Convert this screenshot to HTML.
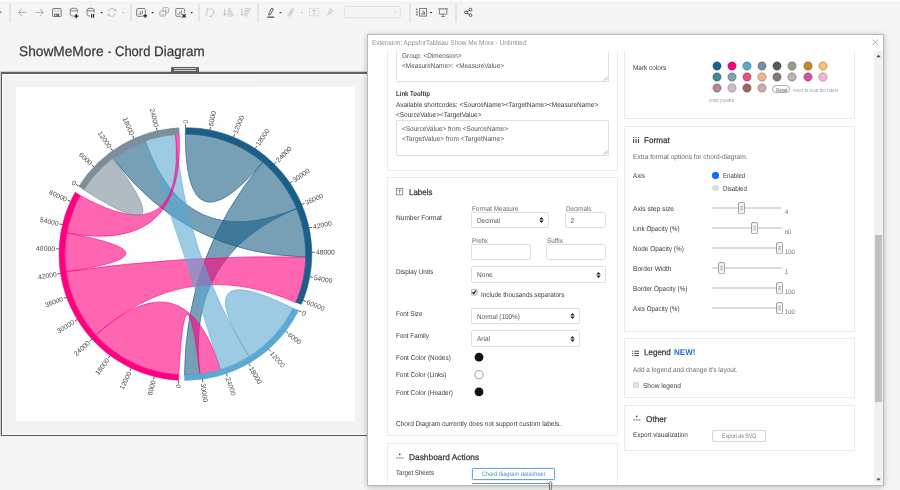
<!DOCTYPE html>
<html><head><meta charset="utf-8"><title>ShowMeMore - Chord Diagram</title>
<style>
html,body{margin:0;padding:0;background:#f5f5f5;}
body{width:900px;height:490px;overflow:hidden;background:#f5f5f5;position:relative;font-family:"Liberation Sans",sans-serif;}
.t{text-rendering:geometricPrecision;position:absolute;white-space:nowrap;line-height:1;transform-origin:0 50%;display:block;}
.b{position:absolute;box-sizing:border-box;}
.card{position:absolute;box-sizing:border-box;border:1px solid #e9ebee;background:#fff;}
.inp{position:absolute;box-sizing:border-box;border:1px solid #dddfe3;background:#fff;border-radius:1.5px;}
.sep{position:absolute;width:2px;background:#e5e5e5;top:3.5px;height:18.5px;}
</style></head><body><div id="root" style="position:absolute;left:0;top:0;width:900px;height:490px;will-change:opacity;opacity:0.999;">

<div class="b" style="left:0.00px;top:0.00px;width:900.00px;height:1.00px;background:#fdfdfd;"></div>
<div class="sep" style="left:9.1px;width:2px;"></div>
<div class="sep" style="left:129.5px;width:2px;"></div>
<div class="sep" style="left:197.6px;width:2px;"></div>
<div class="sep" style="left:257.4px;width:2px;"></div>
<div class="sep" style="left:408.5px;width:2px;"></div>
<div class="sep" style="left:454.7px;width:2px;"></div>
<svg class="b" style="left:0;top:0" width="500" height="26" viewBox="0 0 500 26" fill="none" stroke-linecap="butt">
<path d="M0 9.6H1.6V14.8H0Z" fill="#fff" stroke="none"/><path d="M0 12.2H1.7" stroke="#7f90b2" stroke-width="1.5"/><path d="M0 10.2H1M0 14.2H1" stroke="#b9c4d8" stroke-width="0.7"/>
<path d="M26.2 12.4H18.6M22 8.9L18.4 12.4L22 15.9" stroke="#a8a8a8" stroke-width="0.9"/>
<path d="M35.4 12.4H43.2M39.8 8.9L43.4 12.4L39.8 15.9" stroke="#a8a8a8" stroke-width="0.9"/>
<rect x="52.6" y="8.5" width="8.6" height="8" rx="0.8" stroke="#6a6a6a" stroke-width="0.9"/><rect x="54.2" y="13.6" width="5" height="2.9" fill="#6a6a6a" stroke="none"/><rect x="55" y="14.4" width="1.4" height="1.4" fill="#ddd" stroke="none"/><path d="M54.6 8.6V11H59V8.6" stroke="#aaa" stroke-width="0.6"/>
<path d="M70.3 9.6V14.6C70.3 15.6 71.8 16 73.3 16" stroke="#6a6a6a" stroke-width="0.85"/><ellipse cx="73.8" cy="9.6" rx="3.5" ry="1.4" stroke="#6a6a6a" stroke-width="0.85"/><path d="M77.3 9.6V12.6" stroke="#6a6a6a" stroke-width="0.85"/>
<path d="M74.2 16.1H78.4M76.3 14V18.2" stroke="#1a1a1a" stroke-width="1.3"/>
<path d="M87.1 9.6V14.6C87.1 15.6 88.6 16 90.1 16" stroke="#6a6a6a" stroke-width="0.85"/><ellipse cx="90.6" cy="9.6" rx="3.5" ry="1.4" stroke="#6a6a6a" stroke-width="0.85"/><path d="M94.1 9.6V12.6" stroke="#6a6a6a" stroke-width="0.85"/>
<path d="M91.7 13.9V17.7M93.6 13.9V17.7" stroke="#1a1a1a" stroke-width="1.1"/>
<path d="M100.39999999999999 12.1L101.6 13.4L102.8 12.1Z" fill="#1a1a1a" stroke="none"/>
<path d="M108.2 11.6A3.9 3.9 0 0 1 115.4 10.4M115.6 13.2A3.9 3.9 0 0 1 108.4 14.4" stroke="#b9b9b9" stroke-width="0.9"/><path d="M115.9 8.6V10.8H113.8M107.9 16.2V14H110" stroke="#b9b9b9" stroke-width="0.8"/>
<path d="M122.2 12.1L123.4 13.4L124.60000000000001 12.1Z" fill="#b5b5b5" stroke="none"/>
<rect x="136.7" y="8.5" width="8.6" height="7.8" rx="1" stroke="#6a6a6a" stroke-width="0.85"/><path d="M138.89999999999998 14.6V13.4M140.6 14.6V11.6M142.29999999999998 14.6V10.4" stroke="#6a6a6a" stroke-width="0.9"/>
<rect x="142.6" y="13.2" width="5" height="5" fill="#f5f5f5" stroke="none"/><path d="M143.2 15.8H147.2M145.2 13.8V17.8" stroke="#1a1a1a" stroke-width="1.2"/>
<path d="M151.4 12.1L152.6 13.4L153.79999999999998 12.1Z" fill="#1a1a1a" stroke="none"/>
<rect x="163" y="7.7" width="5.6" height="5" rx="0.8" stroke="#9a9a9a" stroke-width="0.8"/><rect x="159.8" y="11.2" width="5.8" height="4.8" rx="0.8" fill="#f5f5f5" stroke="#9a9a9a" stroke-width="0.8"/><path d="M161.4 14.4H164M165 10.6H167M166 9.6V11.6" stroke="#aaa" stroke-width="0.7"/>
<rect x="175.8" y="8.5" width="8.6" height="7.8" rx="1" stroke="#6a6a6a" stroke-width="0.85"/><path d="M178.0 14.6V13.4M179.70000000000002 14.6V11.6M181.4 14.6V10.4" stroke="#6a6a6a" stroke-width="0.9"/>
<rect x="181.4" y="13.2" width="5" height="5" fill="#f5f5f5" stroke="none"/><path d="M182.3 14.2L185.7 17.6M185.7 14.2L182.3 17.6" stroke="#1a1a1a" stroke-width="1.2"/>
<path d="M190.5 12.1L191.7 13.4L192.89999999999998 12.1Z" fill="#1a1a1a" stroke="none"/>
<path d="M207 9.2H211.6M206.8 9.4V15.4" stroke="#b9b9b9" stroke-width="1.3" stroke-dasharray="1.2 0.7"/><path d="M212.2 9.2C214.6 10.4 214.6 14.4 210.4 16.4" stroke="#b9b9b9" stroke-width="0.9"/><path d="M213 12.6L214.4 11.4M209.2 16.4H211.4" stroke="#b9b9b9" stroke-width="0.8"/>
<path d="M224.7 8.8V15M223.4 13.8L224.7 15.6L226 13.8" stroke="#b9b9b9" stroke-width="0.9"/>
<rect x="228.6" y="8.6" width="2.2" height="1.8" rx="0.7" stroke="#b9b9b9" stroke-width="0.7"/><rect x="228" y="11.4" width="3.8" height="1.8" rx="0.7" stroke="#b9b9b9" stroke-width="0.7"/><rect x="227.6" y="14.2" width="5.8" height="1.8" rx="0.7" stroke="#b9b9b9" stroke-width="0.7"/>
<path d="M242.1 8.8V15M240.8 13.8L242.1 15.6L243.4 13.8" stroke="#b9b9b9" stroke-width="0.9"/>
<rect x="244.8" y="8.6" width="5.8" height="1.8" rx="0.7" stroke="#b9b9b9" stroke-width="0.7"/><rect x="244.8" y="11.4" width="3.8" height="1.8" rx="0.7" stroke="#b9b9b9" stroke-width="0.7"/><rect x="244.8" y="14.2" width="2.4" height="1.8" rx="0.7" stroke="#b9b9b9" stroke-width="0.7"/>
<path d="M271.6 8.2L273.4 9L270.6 14.4L268.8 15.2L268.9 13.4Z" stroke="#3a3a3a" stroke-width="0.8"/><path d="M267.3 17.1H274.1" stroke="#222" stroke-width="1"/>
<path d="M279.1 12.1L280.3 13.4L281.5 12.1Z" fill="#1a1a1a" stroke="none"/>
<path d="M288.2 14.6L291.6 9.2C292.4 8 294.2 9 293.4 10.4L290.2 15.4C289.2 16.8 287.2 15.8 288.2 14.6ZM289.8 14.2L292.2 10.4" stroke="#b9b9b9" stroke-width="0.8"/>
<path d="M300.6 12.1L301.8 13.4L303.0 12.1Z" fill="#bcbcbc" stroke="none"/>
<rect x="309.5" y="8.5" width="9" height="7.4" stroke="#c6c6c6" stroke-width="0.7" stroke-dasharray="1 0.5"/><path d="M312 10.4H316M314 10.4V14.4M313.2 14.4H314.8" stroke="#bdbdbd" stroke-width="0.8"/>
<path d="M330.6 8.6L332.6 11L331.6 11.4L330.8 13.6L328.4 11.6L330.2 10.2ZM329.6 12.6L327.4 15.8" stroke="#b9b9b9" stroke-width="0.8"/>
<rect x="344.6" y="6.4" width="55.8" height="11.4" rx="1" stroke="#dedede" stroke-width="0.9"/>
<path d="M394.3 11.6L395.5 12.9L396.7 11.6Z" fill="#c4c4c4" stroke="none"/>
<rect x="419.6" y="8.5" width="7" height="7.6" stroke="#6a6a6a" stroke-width="0.85"/><path d="M421.6 14.8V13.2M423.1 14.8V10.6M424.6 14.8V11.8" stroke="#6a6a6a" stroke-width="0.9"/><path d="M416.8 8.6V16" stroke="#8c8c8c" stroke-width="1.8" stroke-dasharray="1.7 0.9"/>
<path d="M429.8 12.1L431 13.4L432.2 12.1Z" fill="#1a1a1a" stroke="none"/>
<path d="M438.3 8.9H447.9" stroke="#6a6a6a" stroke-width="1"/><path d="M439.4 9.4V14.2H446.8V9.4" stroke="#6a6a6a" stroke-width="0.85"/><path d="M443.1 14.2V16.2M441.2 16.5H445" stroke="#6a6a6a" stroke-width="0.8"/>
<path d="M466 12.4L470.4 9.8M466 12.4L470.4 15" stroke="#333" stroke-width="0.8"/><circle cx="465.9" cy="12.4" r="1.4" fill="#f5f5f5" stroke="#333" stroke-width="0.8"/><circle cx="470.5" cy="9.6" r="1.4" fill="#f5f5f5" stroke="#333" stroke-width="0.8"/><circle cx="470.5" cy="15.1" r="1.4" fill="#f5f5f5" stroke="#333" stroke-width="0.8"/>
</svg>
<span class="t" style="left:19.30px;top:44px;font-size:14px;color:#3a3a3a;transform:scaleX(0.9795);-webkit-text-stroke:0.25px #3a3a3a;">ShowMeMore</span>
<span class="t" style="left:107.60px;top:44px;font-size:14px;color:#3a3a3a;transform:scaleX(0.6863);-webkit-text-stroke:0.25px #3a3a3a;">-</span>
<span class="t" style="left:114.70px;top:44px;font-size:14px;color:#3a3a3a;transform:scaleX(0.9283);-webkit-text-stroke:0.25px #3a3a3a;">Chord</span>
<span class="t" style="left:154.40px;top:44px;font-size:14px;color:#3a3a3a;transform:scaleX(0.9583);-webkit-text-stroke:0.25px #3a3a3a;">Diagram</span>
<div class="b" style="left:1.00px;top:72.00px;width:368.00px;height:364.00px;border:1px solid #5c5c5c;border-top:2px solid #626262;background:#f3f3f3;box-shadow:inset 0 0 0 1px rgba(255,255,255,.75),0 1px 0 rgba(255,255,255,.75),0 0 0 0.4px rgba(90,90,90,.6);"></div>
<div class="b" style="left:16.00px;top:87.30px;width:338.80px;height:334.10px;background:#fff;"></div>
<div class="b" style="left:171.40px;top:66.70px;width:27.20px;height:6.30px;background:#5e5e5e;border-radius:1px 1px 0 0;"></div>
<div class="b" style="left:174.00px;top:68.00px;width:22.00px;height:1.00px;background:#cfcfcf;"></div>
<div class="b" style="left:174.00px;top:70.00px;width:22.00px;height:1.00px;background:#cfcfcf;"></div>
<svg class="b" style="left:0;top:0" width="900" height="490" viewBox="0 0 900 490">
<g fill-opacity="0.6" stroke-width="0.6">
<path d="M185.30,134.00A120.5,120.5 0 0 1 262.76,162.19Q185.3,254.5 185.30,134.00Z" fill="#1c5f86" stroke="#1c5f86"/>
<path d="M262.76,162.19A120.5,120.5 0 0 1 296.71,208.58Q185.3,254.5 199.99,374.10A120.5,120.5 0 0 1 184.46,375.00Q185.3,254.5 262.76,162.19Z" fill="#1c5f86" stroke="#1c5f86"/>
<path d="M95.75,335.13A120.5,120.5 0 0 1 66.03,271.69Q185.3,254.5 305.77,257.02A120.5,120.5 0 0 1 295.85,302.45Q185.3,254.5 95.75,335.13Z" fill="#ff007f" stroke="#ff007f"/>
<path d="M296.71,208.58A120.5,120.5 0 0 1 305.77,257.02Q185.3,254.5 112.78,158.26A120.5,120.5 0 0 1 145.27,140.84Q185.3,254.5 296.71,208.58Z" fill="#1c5f86" stroke="#1c5f86"/>
<path d="M293.14,308.27A120.5,120.5 0 0 1 249.16,356.69Q185.3,254.5 293.14,308.27Z" fill="#5aa9d1" stroke="#5aa9d1"/>
<path d="M178.78,374.82A120.5,120.5 0 0 1 95.75,335.13Q185.3,254.5 220.53,369.73A120.5,120.5 0 0 1 199.99,374.10Q185.3,254.5 178.78,374.82Z" fill="#ff007f" stroke="#ff007f"/>
<path d="M249.16,356.69A120.5,120.5 0 0 1 220.53,369.73Q185.3,254.5 145.27,140.84A120.5,120.5 0 0 1 175.64,134.39Q185.3,254.5 249.16,356.69Z" fill="#5aa9d1" stroke="#5aa9d1"/>
<path d="M66.03,271.69A120.5,120.5 0 0 1 66.74,232.95Q185.3,254.5 66.03,271.69Z" fill="#ff007f" stroke="#ff007f"/>
<path d="M66.74,232.95A120.5,120.5 0 0 1 80.22,195.53Q185.3,254.5 175.64,134.39A120.5,120.5 0 0 1 179.20,134.15Q185.3,254.5 66.74,232.95Z" fill="#ff007f" stroke="#ff007f"/>
<path d="M83.67,189.76A120.5,120.5 0 0 1 112.78,158.26Q185.3,254.5 83.67,189.76Z" fill="#7d8d99" stroke="#7d8d99"/>
</g>
<path d="M185.45,127.65A126.4,126.4 0 0 1 301.41,304.35L295.85,302.45A120.5,120.5 0 0 0 185.30,134.00Z" fill="#1c5f86" stroke="#1c5f86" stroke-width="0.5"/>
<path d="M298.57,310.45A126.4,126.4 0 0 1 184.57,380.45L184.46,375.00A120.5,120.5 0 0 0 293.14,308.27Z" fill="#5aa9d1" stroke="#5aa9d1" stroke-width="0.5"/>
<path d="M178.61,380.27A126.4,126.4 0 0 1 75.22,192.19L80.22,195.53A120.5,120.5 0 0 0 178.78,374.82Z" fill="#ff007f" stroke="#ff007f" stroke-width="0.5"/>
<path d="M78.85,186.14A126.4,126.4 0 0 1 179.06,127.81L179.20,134.15A120.5,120.5 0 0 0 83.67,189.76Z" fill="#7d8d99" stroke="#7d8d99" stroke-width="0.5"/>
<g font-family="Liberation Sans, sans-serif" font-size="6.8" fill="#484848" stroke="none" text-rendering="geometricPrecision">
<g transform="translate(185.45,254.05) rotate(-90.00) translate(126.4,0)"><line x1="0" y1="0" x2="3.1" y2="0" stroke="#333" stroke-width="0.75"/><text x="4.1" dy="0.35em">0</text></g>
<g transform="translate(185.45,254.05) rotate(-78.85) translate(126.4,0)"><line x1="0" y1="0" x2="3.1" y2="0" stroke="#333" stroke-width="0.75"/><text x="4.1" dy="0.35em">6000</text></g>
<g transform="translate(185.45,254.05) rotate(-67.70) translate(126.4,0)"><line x1="0" y1="0" x2="3.1" y2="0" stroke="#333" stroke-width="0.75"/><text x="4.1" dy="0.35em">12000</text></g>
<g transform="translate(185.45,254.05) rotate(-56.55) translate(126.4,0)"><line x1="0" y1="0" x2="3.1" y2="0" stroke="#333" stroke-width="0.75"/><text x="4.1" dy="0.35em">18000</text></g>
<g transform="translate(185.45,254.05) rotate(-45.40) translate(126.4,0)"><line x1="0" y1="0" x2="3.1" y2="0" stroke="#333" stroke-width="0.75"/><text x="4.1" dy="0.35em">24000</text></g>
<g transform="translate(185.45,254.05) rotate(-34.25) translate(126.4,0)"><line x1="0" y1="0" x2="3.1" y2="0" stroke="#333" stroke-width="0.75"/><text x="4.1" dy="0.35em">30000</text></g>
<g transform="translate(185.45,254.05) rotate(-23.10) translate(126.4,0)"><line x1="0" y1="0" x2="3.1" y2="0" stroke="#333" stroke-width="0.75"/><text x="4.1" dy="0.35em">36000</text></g>
<g transform="translate(185.45,254.05) rotate(-11.95) translate(126.4,0)"><line x1="0" y1="0" x2="3.1" y2="0" stroke="#333" stroke-width="0.75"/><text x="4.1" dy="0.35em">42000</text></g>
<g transform="translate(185.45,254.05) rotate(-0.80) translate(126.4,0)"><line x1="0" y1="0" x2="3.1" y2="0" stroke="#333" stroke-width="0.75"/><text x="4.1" dy="0.35em">48000</text></g>
<g transform="translate(185.45,254.05) rotate(10.35) translate(126.4,0)"><line x1="0" y1="0" x2="3.1" y2="0" stroke="#333" stroke-width="0.75"/><text x="4.1" dy="0.35em">54000</text></g>
<g transform="translate(185.45,254.05) rotate(21.50) translate(126.4,0)"><line x1="0" y1="0" x2="3.1" y2="0" stroke="#333" stroke-width="0.75"/><text x="4.1" dy="0.35em">60000</text></g>
<g transform="translate(185.45,254.05) rotate(26.50) translate(126.4,0)"><line x1="0" y1="0" x2="3.1" y2="0" stroke="#333" stroke-width="0.75"/><text x="4.1" dy="0.35em">0</text></g>
<g transform="translate(185.45,254.05) rotate(37.65) translate(126.4,0)"><line x1="0" y1="0" x2="3.1" y2="0" stroke="#333" stroke-width="0.75"/><text x="4.1" dy="0.35em">6000</text></g>
<g transform="translate(185.45,254.05) rotate(48.80) translate(126.4,0)"><line x1="0" y1="0" x2="3.1" y2="0" stroke="#333" stroke-width="0.75"/><text x="4.1" dy="0.35em">12000</text></g>
<g transform="translate(185.45,254.05) rotate(59.95) translate(126.4,0)"><line x1="0" y1="0" x2="3.1" y2="0" stroke="#333" stroke-width="0.75"/><text x="4.1" dy="0.35em">18000</text></g>
<g transform="translate(185.45,254.05) rotate(71.10) translate(126.4,0)"><line x1="0" y1="0" x2="3.1" y2="0" stroke="#333" stroke-width="0.75"/><text x="4.1" dy="0.35em">24000</text></g>
<g transform="translate(185.45,254.05) rotate(82.25) translate(126.4,0)"><line x1="0" y1="0" x2="3.1" y2="0" stroke="#333" stroke-width="0.75"/><text x="4.1" dy="0.35em">30000</text></g>
<g transform="translate(185.45,254.05) rotate(93.10) translate(126.4,0)"><line x1="0" y1="0" x2="3.1" y2="0" stroke="#333" stroke-width="0.75"/><text transform="rotate(180) translate(-8.2,0)" x="4.1" dy="0.35em" text-anchor="end">0</text></g>
<g transform="translate(185.45,254.05) rotate(104.25) translate(126.4,0)"><line x1="0" y1="0" x2="3.1" y2="0" stroke="#333" stroke-width="0.75"/><text transform="rotate(180) translate(-8.2,0)" x="4.1" dy="0.35em" text-anchor="end">6000</text></g>
<g transform="translate(185.45,254.05) rotate(115.40) translate(126.4,0)"><line x1="0" y1="0" x2="3.1" y2="0" stroke="#333" stroke-width="0.75"/><text transform="rotate(180) translate(-8.2,0)" x="4.1" dy="0.35em" text-anchor="end">12000</text></g>
<g transform="translate(185.45,254.05) rotate(126.55) translate(126.4,0)"><line x1="0" y1="0" x2="3.1" y2="0" stroke="#333" stroke-width="0.75"/><text transform="rotate(180) translate(-8.2,0)" x="4.1" dy="0.35em" text-anchor="end">18000</text></g>
<g transform="translate(185.45,254.05) rotate(137.70) translate(126.4,0)"><line x1="0" y1="0" x2="3.1" y2="0" stroke="#333" stroke-width="0.75"/><text transform="rotate(180) translate(-8.2,0)" x="4.1" dy="0.35em" text-anchor="end">24000</text></g>
<g transform="translate(185.45,254.05) rotate(148.85) translate(126.4,0)"><line x1="0" y1="0" x2="3.1" y2="0" stroke="#333" stroke-width="0.75"/><text transform="rotate(180) translate(-8.2,0)" x="4.1" dy="0.35em" text-anchor="end">30000</text></g>
<g transform="translate(185.45,254.05) rotate(160.00) translate(126.4,0)"><line x1="0" y1="0" x2="3.1" y2="0" stroke="#333" stroke-width="0.75"/><text transform="rotate(180) translate(-8.2,0)" x="4.1" dy="0.35em" text-anchor="end">36000</text></g>
<g transform="translate(185.45,254.05) rotate(171.15) translate(126.4,0)"><line x1="0" y1="0" x2="3.1" y2="0" stroke="#333" stroke-width="0.75"/><text transform="rotate(180) translate(-8.2,0)" x="4.1" dy="0.35em" text-anchor="end">42000</text></g>
<g transform="translate(185.45,254.05) rotate(182.30) translate(126.4,0)"><line x1="0" y1="0" x2="3.1" y2="0" stroke="#333" stroke-width="0.75"/><text transform="rotate(180) translate(-8.2,0)" x="4.1" dy="0.35em" text-anchor="end">48000</text></g>
<g transform="translate(185.45,254.05) rotate(193.45) translate(126.4,0)"><line x1="0" y1="0" x2="3.1" y2="0" stroke="#333" stroke-width="0.75"/><text transform="rotate(180) translate(-8.2,0)" x="4.1" dy="0.35em" text-anchor="end">54000</text></g>
<g transform="translate(185.45,254.05) rotate(204.60) translate(126.4,0)"><line x1="0" y1="0" x2="3.1" y2="0" stroke="#333" stroke-width="0.75"/><text transform="rotate(180) translate(-8.2,0)" x="4.1" dy="0.35em" text-anchor="end">60000</text></g>
<g transform="translate(185.45,254.05) rotate(212.50) translate(126.4,0)"><line x1="0" y1="0" x2="3.1" y2="0" stroke="#333" stroke-width="0.75"/><text transform="rotate(180) translate(-8.2,0)" x="4.1" dy="0.35em" text-anchor="end">0</text></g>
<g transform="translate(185.45,254.05) rotate(223.65) translate(126.4,0)"><line x1="0" y1="0" x2="3.1" y2="0" stroke="#333" stroke-width="0.75"/><text transform="rotate(180) translate(-8.2,0)" x="4.1" dy="0.35em" text-anchor="end">6000</text></g>
<g transform="translate(185.45,254.05) rotate(234.80) translate(126.4,0)"><line x1="0" y1="0" x2="3.1" y2="0" stroke="#333" stroke-width="0.75"/><text transform="rotate(180) translate(-8.2,0)" x="4.1" dy="0.35em" text-anchor="end">12000</text></g>
<g transform="translate(185.45,254.05) rotate(245.95) translate(126.4,0)"><line x1="0" y1="0" x2="3.1" y2="0" stroke="#333" stroke-width="0.75"/><text transform="rotate(180) translate(-8.2,0)" x="4.1" dy="0.35em" text-anchor="end">18000</text></g>
<g transform="translate(185.45,254.05) rotate(257.10) translate(126.4,0)"><line x1="0" y1="0" x2="3.1" y2="0" stroke="#333" stroke-width="0.75"/><text transform="rotate(180) translate(-8.2,0)" x="4.1" dy="0.35em" text-anchor="end">24000</text></g>
</g></svg>
<div class="b" style="left:367px;top:34px;width:517px;height:452px;background:#fff;border:1px solid #b9b9b9;box-shadow:0 0.5px 6px rgba(0,0,0,.26);"></div>
<span class="t" style="left:372.30px;top:40px;font-size:7.0px;color:#8f8f8f;transform:scaleX(0.9234);">Extension: AppsforTableau Show Me More - Unlimited</span>
<svg class="b" style="left:871px;top:38px" width="9" height="9" viewBox="0 0 9 9"><path d="M1.6 1.6L7 7M7 1.6L1.6 7" stroke="#9a9a9a" stroke-width="0.8" fill="none"/></svg>
<div class="b" style="left:874.00px;top:51.00px;width:9.00px;height:432.00px;background:#f1f1f1;"></div>
<div class="b" style="left:875.00px;top:235.00px;width:7.00px;height:167.00px;background:#c1c1c1;"></div>
<svg class="b" style="left:874px;top:49.6px" width="9" height="12" viewBox="0 0 9 12"><path d="M2.3 7.2L4.5 4.8L6.7 7.2Z" fill="#444"/></svg>
<svg class="b" style="left:874px;top:473px" width="9" height="12" viewBox="0 0 9 12"><path d="M2.3 5.4L4.5 7.8L6.7 5.4Z" fill="#444"/></svg>
<div class="card" style="left:387.00px;top:51.00px;width:231.00px;height:120.00px;border-top:none;"></div>
<div class="inp" style="left:396.00px;top:51.00px;width:213.00px;height:31.00px;border-top:none;"></div>
<span class="t" style="left:402.00px;top:53px;font-size:7px;color:#555;transform:scaleX(0.9212);">Group: &lt;Dimension&gt;</span>
<span class="t" style="left:402.00px;top:63px;font-size:7px;color:#555;transform:scaleX(0.9208);">&lt;MeasureName&gt;: &lt;MeasureValue&gt;</span>
<svg class="b" style="left:603px;top:75.5px" width="5" height="5" viewBox="0 0 5 5"><path d="M0.5 4.5L4.5 0.5M2.5 4.5L4.5 2.5" stroke="#888" stroke-width="0.6" fill="none"/></svg>
<span class="t" style="left:396.10px;top:90px;font-size:7.2px;color:#3b3b3b;font-weight:700;transform:scaleX(0.8421);">Link Tooltip</span>
<span class="t" style="left:396.10px;top:102px;font-size:7px;color:#3b3b3b;transform:scaleX(0.9285);">Available shortcodes: &lt;SourceName&gt;&lt;TargetName&gt;&lt;MeasureName&gt;</span>
<span class="t" style="left:396.10px;top:112px;font-size:7px;color:#3b3b3b;transform:scaleX(0.9207);">&lt;SourceValue&gt;&lt;TargetValue&gt;</span>
<div class="inp" style="left:396.00px;top:120.00px;width:213.00px;height:36.00px;"></div>
<span class="t" style="left:402.00px;top:126px;font-size:7px;color:#555;transform:scaleX(0.9245);">&lt;SourceValue&gt; from &lt;SourceName&gt;</span>
<span class="t" style="left:402.00px;top:136px;font-size:7px;color:#555;transform:scaleX(0.9340);">&lt;TargetValue&gt; from &lt;TargetName&gt;</span>
<svg class="b" style="left:603px;top:149.6px" width="5" height="5" viewBox="0 0 5 5"><path d="M0.5 4.5L4.5 0.5M2.5 4.5L4.5 2.5" stroke="#888" stroke-width="0.6" fill="none"/></svg>
<div class="card" style="left:387.00px;top:177.00px;width:231.00px;height:259.00px;"></div>
<svg class="b" style="left:396px;top:188.2px" width="8" height="8" viewBox="0 0 8 8"><rect x="0.4" y="0.4" width="6.4" height="6.4" fill="none" stroke="#666" stroke-width="0.7"/><path d="M2.1 2.2H5.1M3.6 2.2V5.4" stroke="#555" stroke-width="0.7" fill="none"/></svg>
<span class="t" style="left:408.60px;top:188px;font-size:8.3px;color:#3b3b3b;transform:scaleX(0.9567);-webkit-text-stroke:0.25px #333;">Labels</span>
<span class="t" style="left:396.10px;top:215px;font-size:7px;color:#3b3b3b;transform:scaleX(0.9365);">Number Format</span>
<span class="t" style="left:471.70px;top:206px;font-size:7px;color:#6b6b6b;transform:scaleX(0.9056);">Format Measure</span>
<span class="t" style="left:565.70px;top:206px;font-size:7px;color:#6b6b6b;transform:scaleX(0.8824);">Decimals</span>
<div class="inp" style="left:471.00px;top:212.00px;width:78.00px;height:16.00px;"></div>
<span class="t" style="left:476.90px;top:218px;font-size:7px;color:#555;transform:scaleX(0.9097);">Decimal</span>
<svg class="b" style="left:538.7px;top:216.4px" width="5" height="8" viewBox="0 0 5 8"><path d="M0.3 3.4L2.5 1L4.7 3.4ZM0.3 4.6L2.5 7L4.7 4.6Z" fill="#222"/></svg>
<div class="inp" style="left:565.00px;top:212.00px;width:41.00px;height:16.00px;"></div>
<span class="t" style="left:570.60px;top:218px;font-size:7px;color:#555;">2</span>
<span class="t" style="left:471.70px;top:238px;font-size:7px;color:#6b6b6b;transform:scaleX(0.8886);">Prefix</span>
<span class="t" style="left:546.70px;top:238px;font-size:7px;color:#6b6b6b;transform:scaleX(0.9148);">Suffix</span>
<div class="inp" style="left:471.00px;top:244.00px;width:60.00px;height:16.00px;"></div>
<div class="inp" style="left:546.00px;top:244.00px;width:60.00px;height:16.00px;"></div>
<span class="t" style="left:396.10px;top:269px;font-size:7px;color:#3b3b3b;transform:scaleX(0.9107);">Display Units</span>
<div class="inp" style="left:471.00px;top:266.00px;width:135.00px;height:17.00px;"></div>
<span class="t" style="left:476.90px;top:272px;font-size:7px;color:#555;transform:scaleX(0.9382);">None</span>
<svg class="b" style="left:595.6px;top:270.6px" width="5" height="8" viewBox="0 0 5 8"><path d="M0.3 3.4L2.5 1L4.7 3.4ZM0.3 4.6L2.5 7L4.7 4.6Z" fill="#222"/></svg>
<svg class="b" style="left:471.2px;top:289.4px" width="7" height="7" viewBox="0 0 7 7"><rect x="0.5" y="0.5" width="5.6" height="5.6" rx="0.9" fill="#f4f4f4" stroke="#9a9a9a" stroke-width="0.7"/><path d="M1.5 3.2L2.8 4.6L5 1.5" stroke="#111" stroke-width="1.25" fill="none"/></svg>
<span class="t" style="left:481.00px;top:292px;font-size:7px;color:#3b3b3b;transform:scaleX(0.9081);">Include thousands separators</span>
<span class="t" style="left:396.10px;top:311px;font-size:7px;color:#3b3b3b;transform:scaleX(0.8962);">Font Size</span>
<div class="inp" style="left:471.00px;top:308.00px;width:109.00px;height:16.00px;"></div>
<span class="t" style="left:476.90px;top:314px;font-size:7px;color:#555;transform:scaleX(0.9114);">Normal (100%)</span>
<svg class="b" style="left:569.7px;top:312.4px" width="5" height="8" viewBox="0 0 5 8"><path d="M0.3 3.4L2.5 1L4.7 3.4ZM0.3 4.6L2.5 7L4.7 4.6Z" fill="#222"/></svg>
<span class="t" style="left:396.10px;top:333px;font-size:7px;color:#3b3b3b;transform:scaleX(0.8998);">Font Family</span>
<div class="inp" style="left:471.00px;top:330.00px;width:109.00px;height:17.00px;"></div>
<span class="t" style="left:476.90px;top:336px;font-size:7px;color:#555;transform:scaleX(0.9211);">Arial</span>
<svg class="b" style="left:569.7px;top:334.5px" width="5" height="8" viewBox="0 0 5 8"><path d="M0.3 3.4L2.5 1L4.7 3.4ZM0.3 4.6L2.5 7L4.7 4.6Z" fill="#222"/></svg>
<span class="t" style="left:396.10px;top:355px;font-size:7px;color:#3b3b3b;transform:scaleX(0.9207);">Font Color (Nodes)</span>
<svg class="b" style="left:473px;top:351px" width="12" height="12" viewBox="0 0 12 12"><circle cx="6" cy="6.2" r="4.4" fill="#111"/></svg>
<span class="t" style="left:396.10px;top:372px;font-size:7px;color:#3b3b3b;transform:scaleX(0.9060);">Font Color (Links)</span>
<svg class="b" style="left:473px;top:369px" width="12" height="12" viewBox="0 0 12 12"><circle cx="6" cy="5.7" r="4.1" fill="#fff" stroke="#777" stroke-width="0.7"/></svg>
<span class="t" style="left:396.10px;top:390px;font-size:7px;color:#3b3b3b;transform:scaleX(0.9141);">Font Color (Header)</span>
<svg class="b" style="left:473px;top:386px" width="12" height="12" viewBox="0 0 12 12"><circle cx="6" cy="5.9" r="4.4" fill="#111"/></svg>
<span class="t" style="left:396.10px;top:421px;font-size:7px;color:#3b3b3b;transform:scaleX(0.9320);">Chord Diagram currently does not support custom labels.</span>
<div class="card" style="left:387.00px;top:443.00px;width:231.00px;height:41.40px;border-bottom:none;"></div>
<svg class="b" style="left:395px;top:452.1px" width="10" height="8" viewBox="0 0 10 8"><circle cx="4.8" cy="2.4" r="0.8" fill="#333"/><path d="M1.4 5.8H8.4" stroke="#bbb" stroke-width="0.7"/><circle cx="2.2" cy="5.8" r="0.85" fill="#9a9a9a"/><circle cx="4.85" cy="5.8" r="0.85" fill="#9a9a9a"/><circle cx="7.5" cy="5.8" r="0.85" fill="#9a9a9a"/></svg>
<span class="t" style="left:408.90px;top:453px;font-size:8.3px;color:#3b3b3b;transform:scaleX(1.0076);-webkit-text-stroke:0.25px #333;">Dashboard Actions</span>
<span class="t" style="left:396.10px;top:470px;font-size:7px;color:#3b3b3b;transform:scaleX(0.8798);">Target Sheets</span>
<div class="b" style="left:472.30px;top:467.70px;width:82.70px;height:12.30px;border:1px solid #6ea5e0;background:#fff;border-radius:1.5px;box-shadow:0 0 1.5px #9cc4ee;"></div>
<span class="t" style="left:482.00px;top:472px;font-size:6.3px;color:#4a8fd6;transform:scaleX(0.8904);">Chord diagram datasheet</span>
<div class="b" style="left:472.30px;top:483.00px;width:76.50px;height:1.30px;background:#6b9896;"></div>
<svg class="b" style="left:546.5px;top:480.5px" width="7" height="10" viewBox="0 0 7 10"><path d="M3.3 0.6L5.4 2.6L4.2 2.9V9.6H2.6V2.9L1.3 2.6Z" fill="#fff" stroke="#333" stroke-width="0.7"/></svg>
<div class="card" style="left:624.00px;top:51.00px;width:231.00px;height:68.00px;border-top:none;"></div>
<span class="t" style="left:633.00px;top:65px;font-size:7px;color:#3b3b3b;transform:scaleX(0.9206);">Mark colors</span>
<svg class="b" style="left:711.50px;top:61.10px" width="10" height="10" viewBox="0 0 10 10"><circle cx="5" cy="5" r="4.2" fill="#1f5f86" stroke="rgba(0,0,0,0.4)" stroke-width="0.6"/></svg>
<svg class="b" style="left:726.70px;top:61.10px" width="10" height="10" viewBox="0 0 10 10"><circle cx="5" cy="5" r="4.2" fill="#ff007f" stroke="rgba(0,0,0,0.4)" stroke-width="0.6"/></svg>
<svg class="b" style="left:741.90px;top:61.10px" width="10" height="10" viewBox="0 0 10 10"><circle cx="5" cy="5" r="4.2" fill="#5ba8d0" stroke="rgba(0,0,0,0.4)" stroke-width="0.6"/></svg>
<svg class="b" style="left:757.00px;top:61.10px" width="10" height="10" viewBox="0 0 10 10"><circle cx="5" cy="5" r="4.2" fill="#7c8d99" stroke="rgba(0,0,0,0.4)" stroke-width="0.6"/></svg>
<svg class="b" style="left:772.30px;top:61.10px" width="10" height="10" viewBox="0 0 10 10"><circle cx="5" cy="5" r="4.2" fill="#505f4d" stroke="rgba(0,0,0,0.4)" stroke-width="0.6"/></svg>
<svg class="b" style="left:787.40px;top:61.10px" width="10" height="10" viewBox="0 0 10 10"><circle cx="5" cy="5" r="4.2" fill="#939e8a" stroke="rgba(0,0,0,0.4)" stroke-width="0.6"/></svg>
<svg class="b" style="left:802.60px;top:61.10px" width="10" height="10" viewBox="0 0 10 10"><circle cx="5" cy="5" r="4.2" fill="#c8832b" stroke="rgba(0,0,0,0.4)" stroke-width="0.6"/></svg>
<svg class="b" style="left:817.90px;top:61.10px" width="10" height="10" viewBox="0 0 10 10"><circle cx="5" cy="5" r="4.2" fill="#f6c372" stroke="rgba(0,0,0,0.4)" stroke-width="0.6"/></svg>
<svg class="b" style="left:711.50px;top:72.00px" width="10" height="10" viewBox="0 0 10 10"><circle cx="5" cy="5" r="4.2" fill="#3f8a93" stroke="rgba(0,0,0,0.4)" stroke-width="0.6"/></svg>
<svg class="b" style="left:726.70px;top:72.00px" width="10" height="10" viewBox="0 0 10 10"><circle cx="5" cy="5" r="4.2" fill="#7fa3b0" stroke="rgba(0,0,0,0.4)" stroke-width="0.6"/></svg>
<svg class="b" style="left:741.90px;top:72.00px" width="10" height="10" viewBox="0 0 10 10"><circle cx="5" cy="5" r="4.2" fill="#e8527a" stroke="rgba(0,0,0,0.4)" stroke-width="0.6"/></svg>
<svg class="b" style="left:757.00px;top:72.00px" width="10" height="10" viewBox="0 0 10 10"><circle cx="5" cy="5" r="4.2" fill="#f0b68a" stroke="rgba(0,0,0,0.4)" stroke-width="0.6"/></svg>
<svg class="b" style="left:772.30px;top:72.00px" width="10" height="10" viewBox="0 0 10 10"><circle cx="5" cy="5" r="4.2" fill="#7f7b7a" stroke="rgba(0,0,0,0.4)" stroke-width="0.6"/></svg>
<svg class="b" style="left:787.40px;top:72.00px" width="10" height="10" viewBox="0 0 10 10"><circle cx="5" cy="5" r="4.2" fill="#b8b3b0" stroke="rgba(0,0,0,0.4)" stroke-width="0.6"/></svg>
<svg class="b" style="left:802.60px;top:72.00px" width="10" height="10" viewBox="0 0 10 10"><circle cx="5" cy="5" r="4.2" fill="#d652a6" stroke="rgba(0,0,0,0.4)" stroke-width="0.6"/></svg>
<svg class="b" style="left:817.90px;top:72.00px" width="10" height="10" viewBox="0 0 10 10"><circle cx="5" cy="5" r="4.2" fill="#fab3d3" stroke="rgba(0,0,0,0.4)" stroke-width="0.6"/></svg>
<svg class="b" style="left:711.50px;top:82.90px" width="10" height="10" viewBox="0 0 10 10"><circle cx="5" cy="5" r="4.2" fill="#b08799" stroke="rgba(0,0,0,0.4)" stroke-width="0.6"/></svg>
<svg class="b" style="left:726.70px;top:82.90px" width="10" height="10" viewBox="0 0 10 10"><circle cx="5" cy="5" r="4.2" fill="#cdbdc8" stroke="rgba(0,0,0,0.4)" stroke-width="0.6"/></svg>
<svg class="b" style="left:741.90px;top:82.90px" width="10" height="10" viewBox="0 0 10 10"><circle cx="5" cy="5" r="4.2" fill="#9f6760" stroke="rgba(0,0,0,0.4)" stroke-width="0.6"/></svg>
<svg class="b" style="left:757.00px;top:82.90px" width="10" height="10" viewBox="0 0 10 10"><circle cx="5" cy="5" r="4.2" fill="#c9adab" stroke="rgba(0,0,0,0.4)" stroke-width="0.6"/></svg>
<div class="b" style="left:772.40px;top:85.00px;width:17.90px;height:8.30px;border:0.7px solid #aaa;border-radius:4.2px;background:#fff;"></div>
<span class="t" style="left:775.60px;top:89px;font-size:5.4px;color:#666;transform:scaleX(0.8223);">Reset</span>
<span class="t" style="left:792.70px;top:89px;font-size:5px;color:#8d9ba6;transform:scaleX(0.9167);">reset to load the latest</span>
<span class="t" style="left:709.30px;top:99px;font-size:5px;color:#8d9ba6;transform:scaleX(0.9251);">color palette</span>
<div class="card" style="left:624.00px;top:126.00px;width:231.00px;height:206.00px;"></div>
<svg class="b" style="left:632px;top:136px" width="9" height="9" viewBox="0 0 9 9"><path d="M1.6 2.9V7.1M4.05 2.9V7.1M6.5 2.9V7.1" stroke="#3a3a3a" stroke-width="1.05" fill="none"/><path d="M1.6 1.1V2.1M4.05 1.1V2.1M6.5 1.1V2.1" stroke="#3a3a3a" stroke-width="1.05" fill="none"/></svg>
<span class="t" style="left:644.00px;top:136px;font-size:8.3px;color:#3b3b3b;transform:scaleX(0.9815);-webkit-text-stroke:0.25px #333;">Format</span>
<span class="t" style="left:633.00px;top:154px;font-size:7px;color:#6b6b6b;transform:scaleX(0.9411);">Extra format options for chord-diagram.</span>
<span class="t" style="left:633.00px;top:173px;font-size:7px;color:#3b3b3b;transform:scaleX(0.8923);">Axis</span>
<div class="b" style="left:712.40px;top:172.30px;width:6.30px;height:6.30px;border-radius:50%;background:#0d6efd;"></div>
<span class="t" style="left:722.80px;top:173px;font-size:7px;color:#3b3b3b;transform:scaleX(0.8641);">Enabled</span>
<div class="b" style="left:712.40px;top:185.20px;width:6.30px;height:6.30px;border-radius:50%;background:#dcdde0;"></div>
<span class="t" style="left:722.80px;top:186px;font-size:7px;color:#3b3b3b;transform:scaleX(0.8738);">Disabled</span>
<span class="t" style="left:633.00px;top:206px;font-size:7px;color:#3b3b3b;transform:scaleX(0.9581);">Axis step size</span>
<div class="b" style="left:712.40px;top:207.30px;width:69.90px;height:1.50px;background:#e0dbd6;border-radius:1px;"></div>
<svg class="b" style="left:737.50px;top:202.00px" width="7.2" height="12.4" viewBox="0 0 7.2 12.4"><rect x="0.55" y="0.6" width="6.1" height="11.2" rx="1.2" fill="#f6f6f6" stroke="#7c7c7c" stroke-width="0.75"/><path d="M2.5 4.4H4.7M2.5 6.1H4.7M2.5 7.8H4.7" stroke="#777" stroke-width="0.65"/></svg>
<span class="t" style="left:784.80px;top:210px;font-size:6.6px;color:#6b6b6b;transform:scaleX(0.8718);">4</span>
<span class="t" style="left:633.00px;top:226px;font-size:7px;color:#3b3b3b;transform:scaleX(0.9056);">Link Opacity (%)</span>
<div class="b" style="left:712.40px;top:227.30px;width:69.90px;height:1.50px;background:#e0dbd6;border-radius:1px;"></div>
<svg class="b" style="left:750.50px;top:222.00px" width="7.2" height="12.4" viewBox="0 0 7.2 12.4"><rect x="0.55" y="0.6" width="6.1" height="11.2" rx="1.2" fill="#f6f6f6" stroke="#7c7c7c" stroke-width="0.75"/><path d="M2.5 4.4H4.7M2.5 6.1H4.7M2.5 7.8H4.7" stroke="#777" stroke-width="0.65"/></svg>
<span class="t" style="left:784.80px;top:230px;font-size:6.6px;color:#6b6b6b;transform:scaleX(0.8173);">60</span>
<span class="t" style="left:633.00px;top:246px;font-size:7px;color:#3b3b3b;transform:scaleX(0.9196);">Node Opacity (%)</span>
<div class="b" style="left:712.40px;top:247.30px;width:69.90px;height:1.50px;background:#e0dbd6;border-radius:1px;"></div>
<svg class="b" style="left:776.00px;top:242.00px" width="7.2" height="12.4" viewBox="0 0 7.2 12.4"><rect x="0.55" y="0.6" width="6.1" height="11.2" rx="1.2" fill="#f6f6f6" stroke="#7c7c7c" stroke-width="0.75"/><path d="M2.5 4.4H4.7M2.5 6.1H4.7M2.5 7.8H4.7" stroke="#777" stroke-width="0.65"/></svg>
<span class="t" style="left:784.80px;top:250px;font-size:6.6px;color:#6b6b6b;transform:scaleX(0.8899);">100</span>
<span class="t" style="left:633.00px;top:266px;font-size:7px;color:#3b3b3b;transform:scaleX(0.9425);">Border Width</span>
<div class="b" style="left:712.40px;top:267.30px;width:69.90px;height:1.50px;background:#e0dbd6;border-radius:1px;"></div>
<svg class="b" style="left:717.90px;top:262.00px" width="7.2" height="12.4" viewBox="0 0 7.2 12.4"><rect x="0.55" y="0.6" width="6.1" height="11.2" rx="1.2" fill="#f6f6f6" stroke="#7c7c7c" stroke-width="0.75"/><path d="M2.5 4.4H4.7M2.5 6.1H4.7M2.5 7.8H4.7" stroke="#777" stroke-width="0.65"/></svg>
<span class="t" style="left:784.80px;top:270px;font-size:6.6px;color:#6b6b6b;transform:scaleX(0.8718);">1</span>
<span class="t" style="left:633.00px;top:286px;font-size:7px;color:#3b3b3b;transform:scaleX(0.9157);">Border Opacity (%)</span>
<div class="b" style="left:712.40px;top:287.30px;width:69.90px;height:1.50px;background:#e0dbd6;border-radius:1px;"></div>
<svg class="b" style="left:776.00px;top:282.00px" width="7.2" height="12.4" viewBox="0 0 7.2 12.4"><rect x="0.55" y="0.6" width="6.1" height="11.2" rx="1.2" fill="#f6f6f6" stroke="#7c7c7c" stroke-width="0.75"/><path d="M2.5 4.4H4.7M2.5 6.1H4.7M2.5 7.8H4.7" stroke="#777" stroke-width="0.65"/></svg>
<span class="t" style="left:784.80px;top:290px;font-size:6.6px;color:#6b6b6b;transform:scaleX(0.8899);">100</span>
<span class="t" style="left:633.00px;top:306px;font-size:7px;color:#3b3b3b;transform:scaleX(0.8989);">Axis Opacity (%)</span>
<div class="b" style="left:712.40px;top:307.30px;width:69.90px;height:1.50px;background:#e0dbd6;border-radius:1px;"></div>
<svg class="b" style="left:776.00px;top:302.00px" width="7.2" height="12.4" viewBox="0 0 7.2 12.4"><rect x="0.55" y="0.6" width="6.1" height="11.2" rx="1.2" fill="#f6f6f6" stroke="#7c7c7c" stroke-width="0.75"/><path d="M2.5 4.4H4.7M2.5 6.1H4.7M2.5 7.8H4.7" stroke="#777" stroke-width="0.65"/></svg>
<span class="t" style="left:784.80px;top:310px;font-size:6.6px;color:#6b6b6b;transform:scaleX(0.8899);">100</span>
<div class="card" style="left:624.00px;top:338.00px;width:231.00px;height:60.00px;"></div>
<svg class="b" style="left:632px;top:349.6px" width="8" height="7" viewBox="0 0 8 7"><path d="M0.3 1.2H1.4M0.3 3.4H1.4M0.3 5.6H1.4" stroke="#333" stroke-width="1"/><path d="M2.3 1.2H7M2.3 3.4H7M2.3 5.6H7" stroke="#333" stroke-width="0.9"/></svg>
<span class="t" style="left:643.80px;top:348px;font-size:8.3px;color:#3b3b3b;transform:scaleX(0.9676);-webkit-text-stroke:0.25px #333;">Legend</span>
<span class="t" style="left:673.50px;top:349px;font-size:8.2px;color:#1f72c4;font-weight:700;transform:scaleX(0.9834);">NEW!</span>
<span class="t" style="left:633.00px;top:367px;font-size:7px;color:#6b6b6b;transform:scaleX(0.9277);">Add a legend and change it's layout.</span>
<div class="b" style="left:633.00px;top:381.50px;width:6.00px;height:6.00px;background:#e3e3e3;border-radius:1px;border:0.5px solid #d5d5d5;"></div>
<span class="t" style="left:642.80px;top:383px;font-size:7px;color:#3b3b3b;transform:scaleX(0.9363);">Show legend</span>
<div class="card" style="left:624.00px;top:405.00px;width:231.00px;height:46.00px;"></div>
<svg class="b" style="left:632px;top:414px" width="10" height="8" viewBox="0 0 10 8"><circle cx="4.8" cy="2.4" r="0.8" fill="#333"/><path d="M1.4 5.8H8.4" stroke="#bbb" stroke-width="0.7"/><circle cx="2.2" cy="5.8" r="0.85" fill="#9a9a9a"/><circle cx="4.85" cy="5.8" r="0.85" fill="#9a9a9a"/><circle cx="7.5" cy="5.8" r="0.85" fill="#9a9a9a"/></svg>
<span class="t" style="left:646.10px;top:415px;font-size:8.3px;color:#3b3b3b;transform:scaleX(0.9924);-webkit-text-stroke:0.25px #333;">Other</span>
<span class="t" style="left:633.00px;top:432px;font-size:7px;color:#3b3b3b;transform:scaleX(0.9103);">Export visualization</span>
<div class="b" style="left:712.40px;top:429.50px;width:53.30px;height:12.50px;border:1px solid #d6d6d6;background:#fff;border-radius:1px;"></div>
<span class="t" style="left:722.20px;top:434px;font-size:6.4px;color:#777;transform:scaleX(0.8080);">Export as SVG</span>
</div></body></html>
